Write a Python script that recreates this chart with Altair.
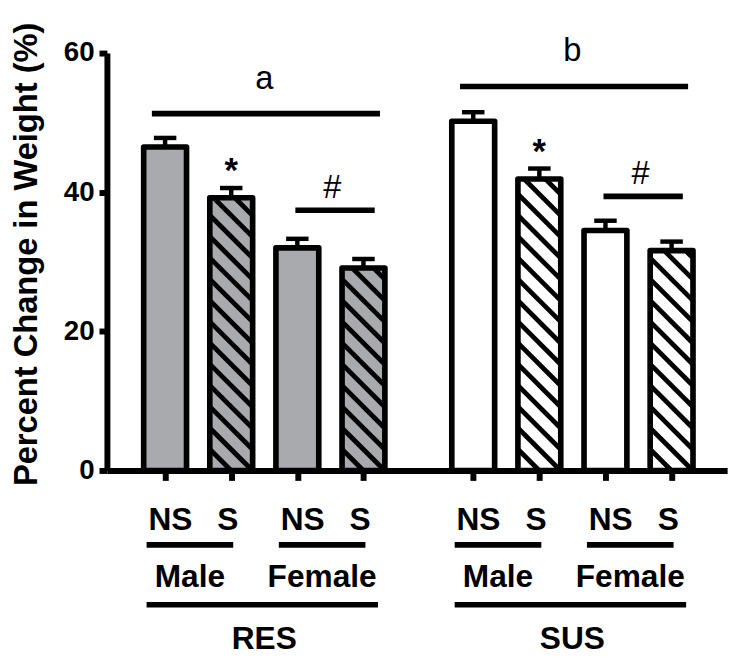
import altair as alt
import pandas as pd

# ---------------- data ----------------
groups = ["RES", "SUS"]
sexes = ["Male", "Female"]
conditions = ["NS", "S"]
means = [46.5, 39.2, 32.0, 29.1, 50.2, 41.9, 34.5, 31.6]
sems = [1.3, 1.4, 1.3, 1.3, 1.3, 1.5, 1.4, 1.3]
group_letters = ["a", "b"]
group_line_y = [51.3, 55.2]
female_line_y = [37.4, 39.4]
y_ticks = [0, 20, 40, 60]
y_title = "Percent Change in Weight (%)"
group_fill = {"RES": "#a8aaad", "SUS": "#ffffff"}

# ---------------- layout ----------------
W, H = 627, 422
X_DOM = [0.12, 9.5]
Y_DOM = [0, 60]
GROUP_STEP = 4.66
HALF = 0.324
FONT = "Liberation Sans"

rows = []
i = 0
for gi, g in enumerate(groups):
    for si, s in enumerate(sexes):
        for ci, c in enumerate(conditions):
            pos = 1 + gi * GROUP_STEP + si * 2 + ci
            rows.append(dict(group=g, sex=s, cond=c, pos=pos,
                             x0=pos - HALF, x1=pos + HALF, base=0.0,
                             mean=means[i], top=means[i] + sems[i],
                             c0=pos - 0.17, c1=pos + 0.17,
                             fill=group_fill[g]))
            i += 1
bars = pd.DataFrame(rows)
positions = list(bars["pos"])

# hatch stripes for S bars (45 degree in pixel space), clipped to the bar
px_x = W / (X_DOM[1] - X_DOM[0])
px_y = H / (Y_DOM[1] - Y_DOM[0])
slope = px_x / px_y
spacing = 21.5 / px_y
hatch = []
for r in rows:
    if r["cond"] != "S":
        continue
    L, R, V = r["x0"], r["x1"], r["mean"]
    w = R - L
    k = 1
    while True:
        c = k * spacing
        if c > V + slope * w:
            break
        xs = L + max(0.0, (c - V) / slope)
        xe = L + min(w, c / slope)
        if xe > xs:
            hatch.append(dict(x=xs, y=c - slope * (xs - L),
                              x2=xe, y2=c - slope * (xe - L)))
        k += 1
hatch = pd.DataFrame(hatch)

# annotation tables derived from the bars
grp_rows, sex_rows, cond_rows, fem_rows, star_rows = [], [], [], [], []
for gi, g in enumerate(groups):
    gb = bars[bars["group"] == g]
    p = list(gb["pos"])
    grp_rows.append(dict(label=g, letter=group_letters[gi],
                         lx0=p[0] - 0.2, lx1=p[3] + 0.25, ly=group_line_y[gi],
                         ty=group_line_y[gi] + 3.6,
                         bx0=p[0] - 0.28, bx1=p[3] + 0.22,
                         cx=(p[0] + p[3]) / 2))
    fb = gb[gb["sex"] == "Female"]
    fp = list(fb["pos"])
    fem_rows.append(dict(x0=fp[0] - 0.03, x1=fp[1] + 0.17, y=female_line_y[gi],
                         tx=(fp[0] + fp[1]) / 2 + 0.03, ty=female_line_y[gi] + 1.8,
                         t="#"))
    mb = gb[(gb["sex"] == "Male") & (gb["cond"] == "S")].iloc[0]
    star_rows.append(dict(x=mb["pos"], y=mb["top"] + 0.8, t="*"))
    for s in sexes:
        sb = gb[gb["sex"] == s]
        sp = list(sb["pos"])
        sex_rows.append(dict(label=s, x0=sp[0] - 0.28, x1=sp[1] + 0.03,
                             cx=(sp[0] - 0.28 + sp[1] + 0.03) / 2))
        for _, rr in sb.iterrows():
            off = 0.08 if rr["cond"] == "NS" else -0.05
            cond_rows.append(dict(label=rr["cond"], x=rr["pos"] + off))
grp_df = pd.DataFrame(grp_rows)
sex_df = pd.DataFrame(sex_rows)
cond_df = pd.DataFrame(cond_rows)
fem_df = pd.DataFrame(fem_rows)
star_df = pd.DataFrame(star_rows)

# rows below the axis (in data units of the y scale)
Y_COND = -8.5
Y_SEXLINE = -10.7
Y_SEX = -16.8
Y_GRPLINE = -19.3
Y_GRP = -25.7

x_axis = alt.Axis(values=positions, labels=False, title="", grid=False,
                  tickSize=10, tickWidth=6, tickColor="black",
                  domainWidth=6, domainColor="black")
y_axis = alt.Axis(values=y_ticks, title=y_title, grid=False,
                  tickSize=8, tickWidth=6, tickColor="black",
                  domainWidth=6, domainColor="black",
                  labelFont=FONT, labelFontSize=28, labelFontWeight="bold",
                  labelColor="black", labelPadding=5,
                  titleFont=FONT, titleFontSize=33, titleFontWeight="bold",
                  titleColor="black", titlePadding=20, titleY=203)
xs_ = alt.Scale(domain=X_DOM, nice=False, zero=False)
ys_ = alt.Scale(domain=Y_DOM, nice=False, zero=False)


def X(f):
    return alt.X(f"{f}:Q", scale=xs_, axis=x_axis)


def Y(f):
    return alt.Y(f"{f}:Q", scale=ys_, axis=y_axis)


def Yd(v):
    return alt.Y(datum=v, type="quantitative", scale=ys_, axis=y_axis)


fill_layer = alt.Chart(bars).mark_rect(strokeWidth=0).encode(
    x=X("x0"), x2="x1", y=Y("base"), y2="mean",
    fill=alt.Fill("fill:N", scale=None))

hatch_layer = alt.Chart(hatch).mark_rule(strokeWidth=4.8, color="black", strokeCap="butt").encode(
    x=X("x"), y=Y("y"), x2="x2", y2="y2")

outline_layer = alt.Chart(bars).mark_rect(fillOpacity=0, stroke="black", strokeWidth=5.7,
                                          strokeJoin="round").encode(
    x=X("x0"), x2="x1", y=Y("base"), y2="mean")

err_layer = alt.Chart(bars).mark_rule(strokeWidth=4.5, color="black").encode(
    x=X("pos"), y=Y("mean"), y2="top")
cap_layer = alt.Chart(bars).mark_rule(strokeWidth=4.5, color="black").encode(
    x=X("c0"), x2="c1", y=Y("top"))

grp_line_top = alt.Chart(grp_df).mark_rule(strokeWidth=5.7, color="black").encode(
    x=X("lx0"), x2="lx1", y=Y("ly"))
letter_layer = alt.Chart(grp_df).mark_text(font=FONT, fontSize=33, color="black",
                                           baseline="alphabetic", align="center").encode(
    x=X("cx"), y=Y("ty"), text="letter:N")
fem_line = alt.Chart(fem_df).mark_rule(strokeWidth=5.7, color="black").encode(
    x=X("x0"), x2="x1", y=Y("y"))
fem_text = alt.Chart(fem_df).mark_text(font=FONT, fontSize=33, color="black",
                                       baseline="alphabetic", align="center").encode(
    x=X("tx"), y=Y("ty"), text="t:N")
star_text = alt.Chart(star_df).mark_text(font=FONT, fontSize=35, fontWeight="bold", color="black",
                                         baseline="alphabetic", align="center").encode(
    x=X("x"), y=Y("y"), text="t:N")

bold_text = dict(font=FONT, fontSize=32, fontWeight="bold", color="black",
                 baseline="alphabetic", align="center")
cond_text = alt.Chart(cond_df).mark_text(**bold_text).encode(
    x=X("x"), y=Yd(Y_COND), text="label:N")
sex_line = alt.Chart(sex_df).mark_rule(strokeWidth=5.7, color="black").encode(
    x=X("x0"), x2="x1", y=Yd(Y_SEXLINE))
sex_text = alt.Chart(sex_df).mark_text(**bold_text).encode(
    x=X("cx"), y=Yd(Y_SEX), text="label:N")
grp_line_bot = alt.Chart(grp_df).mark_rule(strokeWidth=5.7, color="black").encode(
    x=X("bx0"), x2="bx1", y=Yd(Y_GRPLINE))
grp_text = alt.Chart(grp_df).mark_text(**bold_text).encode(
    x=X("cx"), y=Yd(Y_GRP), text="label:N")

chart = alt.layer(
    fill_layer, hatch_layer, outline_layer, err_layer, cap_layer,
    grp_line_top, letter_layer, fem_line, fem_text, star_text,
    cond_text, sex_line, sex_text, grp_line_bot, grp_text,
).properties(
    width=W, height=H,
    autosize=alt.AutoSizeParams(type="none"),
    padding={"left": 100, "top": 42, "right": 11, "bottom": 185},
    background="white",
).configure_view(strokeWidth=0)

chart.save("out.html", embed_options={"renderer": "svg", "actions": False})
